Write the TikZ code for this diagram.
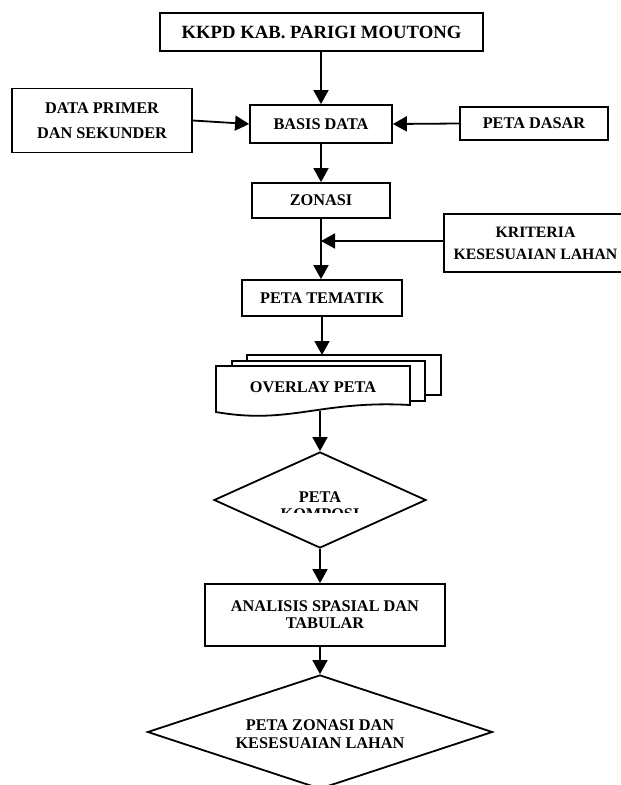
\documentclass[tikz,border=0pt]{standalone}
\usepackage{fontspec}
\setmainfont{Liberation Serif}
\usetikzlibrary{arrows.meta,shapes.geometric}
\begin{document}
\begin{tikzpicture}[x=1pt,y=-1pt,
  box/.style={draw,line width=1.8pt,fill=white,inner sep=0pt,align=center,font=\bfseries\fontsize{16.3}{20}\selectfont},
  dia/.style={draw,line width=1.8pt,shape=diamond,inner sep=0pt,aspect=1},
  lbl/.style={inner sep=0pt,align=center,font=\bfseries\fontsize{16.3}{20}\selectfont},
  arr/.style={line width=1.8pt,-{Triangle[length=14pt,width=15pt]}},
  ln/.style={line width=1.8pt}]
\path[use as bounding box] (0,0) rectangle (621,785);
\clip (0,0) rectangle (621,785);

% boxes
\node[box,minimum width=323pt,minimum height=38pt,font=\bfseries\fontsize{18.7}{22}\selectfont] (title) at (321.5,32) {KKPD KAB. PARIGI MOUTONG};
\node[box,minimum width=180pt,minimum height=64pt,font=\bfseries\fontsize{16.3}{25}\selectfont] (primer) at (102,120.5) {DATA PRIMER\\DAN SEKUNDER};
\node[box,minimum width=142pt,minimum height=38pt] (basis) at (321,124) {BASIS DATA};
\node[box,minimum width=148pt,minimum height=33pt] (dasar) at (534,123.5) {PETA DASAR};
\node[box,minimum width=138pt,minimum height=35pt] (zonasi) at (321,200.5) {ZONASI};
\node[box,minimum width=183pt,minimum height=58pt,font=\bfseries\fontsize{15.8}{22}\selectfont] (kriteria) at (535.5,243) {KRITERIA\\KESESUAIAN LAHAN};
\node[box,minimum width=160pt,minimum height=36pt] (tematik) at (322,298) {PETA TEMATIK};

% overlay (multi-document)
\draw[ln,fill=white] (247,355) rectangle (441,395);
\draw[ln,fill=white] (232,361) rectangle (425,401);
\draw[ln,fill=white] (216,366) -- (410,366) -- (410,405) .. controls (320,400) and (290,425) .. (216,412) -- cycle;
\node[lbl] (overlay) at (313,387) {OVERLAY PETA};
\coordinate (ovtop) at (322,355);
\coordinate (ovbot) at (320,410.5);

% diamond 1
\node[dia,minimum width=212pt,minimum height=96pt] (d1) at (320,500) {};
\node[lbl] (d1a) at (320,497) {PETA};
\begin{scope}
\clip (200,480) rectangle (440,512.5);
\node[lbl] (d1b) at (320,514.5) {KOMPOSI};
\end{scope}

\node[box,minimum width=240pt,minimum height=62pt,font=\bfseries\fontsize{16.3}{17}\selectfont] (analisis) at (325,615) {ANALISIS SPASIAL DAN\\TABULAR};

% diamond 2
\node[dia,minimum width=345pt,minimum height=114pt] (d2) at (320,732) {};
\node[lbl,font=\bfseries\fontsize{16.3}{18}\selectfont] (d2t) at (320,734) {PETA ZONASI DAN\\KESESUAIAN LAHAN};

% connectors
\draw[arr] (basis.north |- title.south) -- (basis.north);
\draw[arr] (primer.east) -- (basis.west);
\draw[arr] (dasar.west) -- (basis.east);
\draw[arr] (basis.south) -- (zonasi.north);
\draw[arr] (zonasi.south) -- (zonasi.south |- tematik.north);
\coordinate (kj) at (321,241);
\draw[arr] (kriteria.west |- kj) -- (kj);
\draw[arr] (tematik.south) -- (ovtop);
\draw[arr] (ovbot) -- (d1.north);
\draw[arr] (d1.south) -- (d1.south |- analisis.north);
\draw[arr] (d1.south |- analisis.south) -- (d2.north);
\end{tikzpicture}
\end{document}
